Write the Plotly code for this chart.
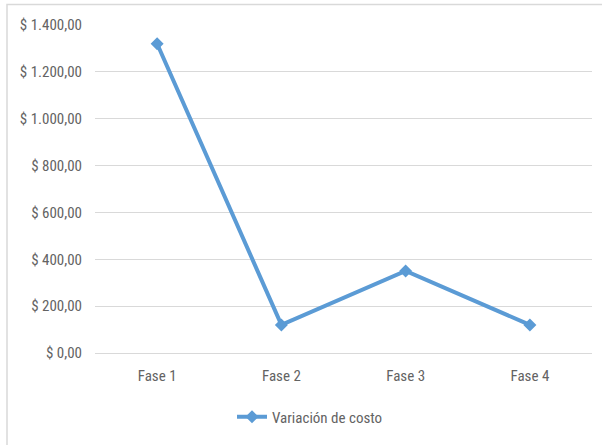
import plotly.graph_objects as go

categories = ["Fase 1", "Fase 2", "Fase 3", "Fase 4"]
values = [1320, 120, 350, 120]
series_name = "Variación de costo"
y_ticks = [0, 200, 400, 600, 800, 1000, 1200, 1400]


def fmt(v):
    s = f"{v:,.2f}"  # 1,400.00
    s = s.replace(",", "X").replace(".", ",").replace("X", ".")
    return "$ " + s


FONT = "Liberation Sans Narrow, Roboto Condensed, Liberation Sans, Arial"
GRAY = "#636363"
BLUE = "#5B9BD5"
FS = 15

W, H = 602, 445
ml, mr, mt, mb = 95, 10, 25, 92
pw, ph = W - ml - mr, H - mt - mb

fig = go.Figure()
fig.add_trace(go.Scatter(
    x=categories, y=values, name=series_name, mode="lines+markers",
    line=dict(color=BLUE, width=4),
    marker=dict(symbol="diamond", size=10, color=BLUE),
    showlegend=True,
))

fig.update_layout(
    width=W, height=H,
    margin=dict(l=ml, r=mr, t=mt, b=mb),
    paper_bgcolor="white", plot_bgcolor="white",
    font=dict(family=FONT, size=FS, color=GRAY),
    xaxis=dict(range=[-0.5, 3.5], showgrid=False, zeroline=False,
               showline=False, ticks="", ticklabelstandoff=12,
               tickfont=dict(size=FS, color=GRAY)),
    yaxis=dict(range=[0, 1400], tickvals=y_ticks,
               ticktext=[fmt(v) for v in y_ticks],
               showgrid=True, gridcolor="#D9D9D9", gridwidth=1,
               zeroline=True, zerolinecolor="#D9D9D9", zerolinewidth=1,
               showline=False, ticks="", ticklen=0, ticklabelstandoff=12,
               tickfont=dict(size=FS, color=GRAY)),
    legend=dict(orientation="h", x=(310 - ml) / pw, xanchor="center",
                y=(353 - 417) / ph, yanchor="middle",
                font=dict(size=FS, color=GRAY), itemwidth=30),
    hovermode=False,
    shapes=[dict(type="rect", xref="paper", yref="paper",
                 x0=(7 - ml) / pw, x1=1 + (mr + 20) / pw,
                 y0=-(mb + 20) / ph, y1=1 + (mt - 4.5) / ph,
                 line=dict(color="#D9D9D9", width=1.5), layer="below")],
)

fig.write_html("out.html")
